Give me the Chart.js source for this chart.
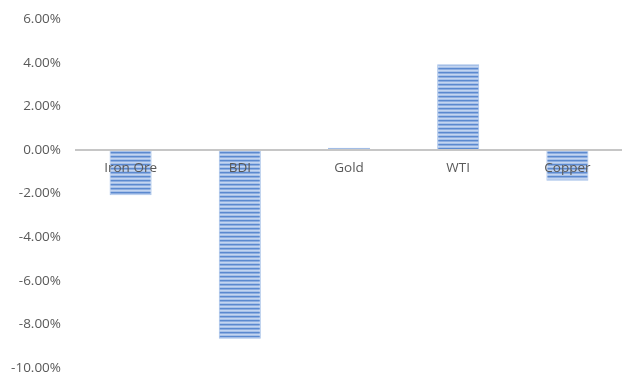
<!DOCTYPE html>
<html>
<head>
<meta charset="utf-8">
<script src="https://cdn.jsdelivr.net/npm/chart.js@4"></script>
<style>
  html, body { margin: 0; padding: 0; background: #fff; overflow: hidden; }
  #wrap { width: 622px; height: 395px; margin-top: -4px; }
</style>
</head>
<body>
<div id="wrap"><canvas id="chart"></canvas></div>
<script>
// データ
const categories = ['Iron Ore', 'BDI', 'Gold', 'WTI', 'Copper'];
const changes = [-2.08, -8.66, 0.1, 3.93, -1.42];
const yTicks = [-10, -8, -6, -4, -2, 0, 2, 4, 6];

// 横縞パターン
function stripePattern() {
    const c = document.createElement('canvas');
    c.width = 4;
    c.height = 4;
    const g = c.getContext('2d');
    const rows = ['#5b89cf', '#8eaee0', '#c3d5f0', '#a7c1e9'];
    rows.forEach((col, i) => {
        g.fillStyle = col;
        g.fillRect(0, i, 4, 1);
    });
    return g.createPattern(c, 'repeat');
}

const ctx = document.getElementById('chart').getContext('2d');
new Chart(ctx, {
    type: 'bar',
    data: {
        labels: categories,
        datasets: [{
            data: changes,
            backgroundColor: stripePattern(),
            borderColor: '#a3bfe8',
            borderWidth: 1,
            borderSkipped: false,
            barPercentage: 0.77,
            categoryPercentage: 0.5
        }]
    },
    options: {
        responsive: true,
        maintainAspectRatio: false,
        animation: false,
        layout: { padding: { top: 0, bottom: 0, right: 0, left: 4 } },
        plugins: {
            legend: { display: false },
            tooltip: { enabled: false }
        },
        scales: {
            x: {
                position: { y: 0 },
                grid: { display: false, drawTicks: false },
                border: { display: true, color: '#c6c6c6', width: 2, z: 1 },
                ticks: {
                    z: 1,
                    color: '#595959',
                    font: { family: 'Open Sans', size: 13.5 },
                    padding: 10,
                    maxRotation: 0
                }
            },
            y: {
                min: -10,
                max: 6,
                afterBuildTicks: (axis) => {
                    axis.ticks = yTicks.map(v => ({ value: v }));
                },
                afterFit: (scale) => { scale.width = 72; },
                grid: { display: false, drawTicks: false },
                border: { display: false },
                ticks: {
                    color: '#595959',
                    font: { family: 'Open Sans', size: 13.5 },
                    padding: 15,
                    callback: (v) => v.toFixed(2) + '%'
                }
            }
        }
    }
});
</script>
</body>
</html>
